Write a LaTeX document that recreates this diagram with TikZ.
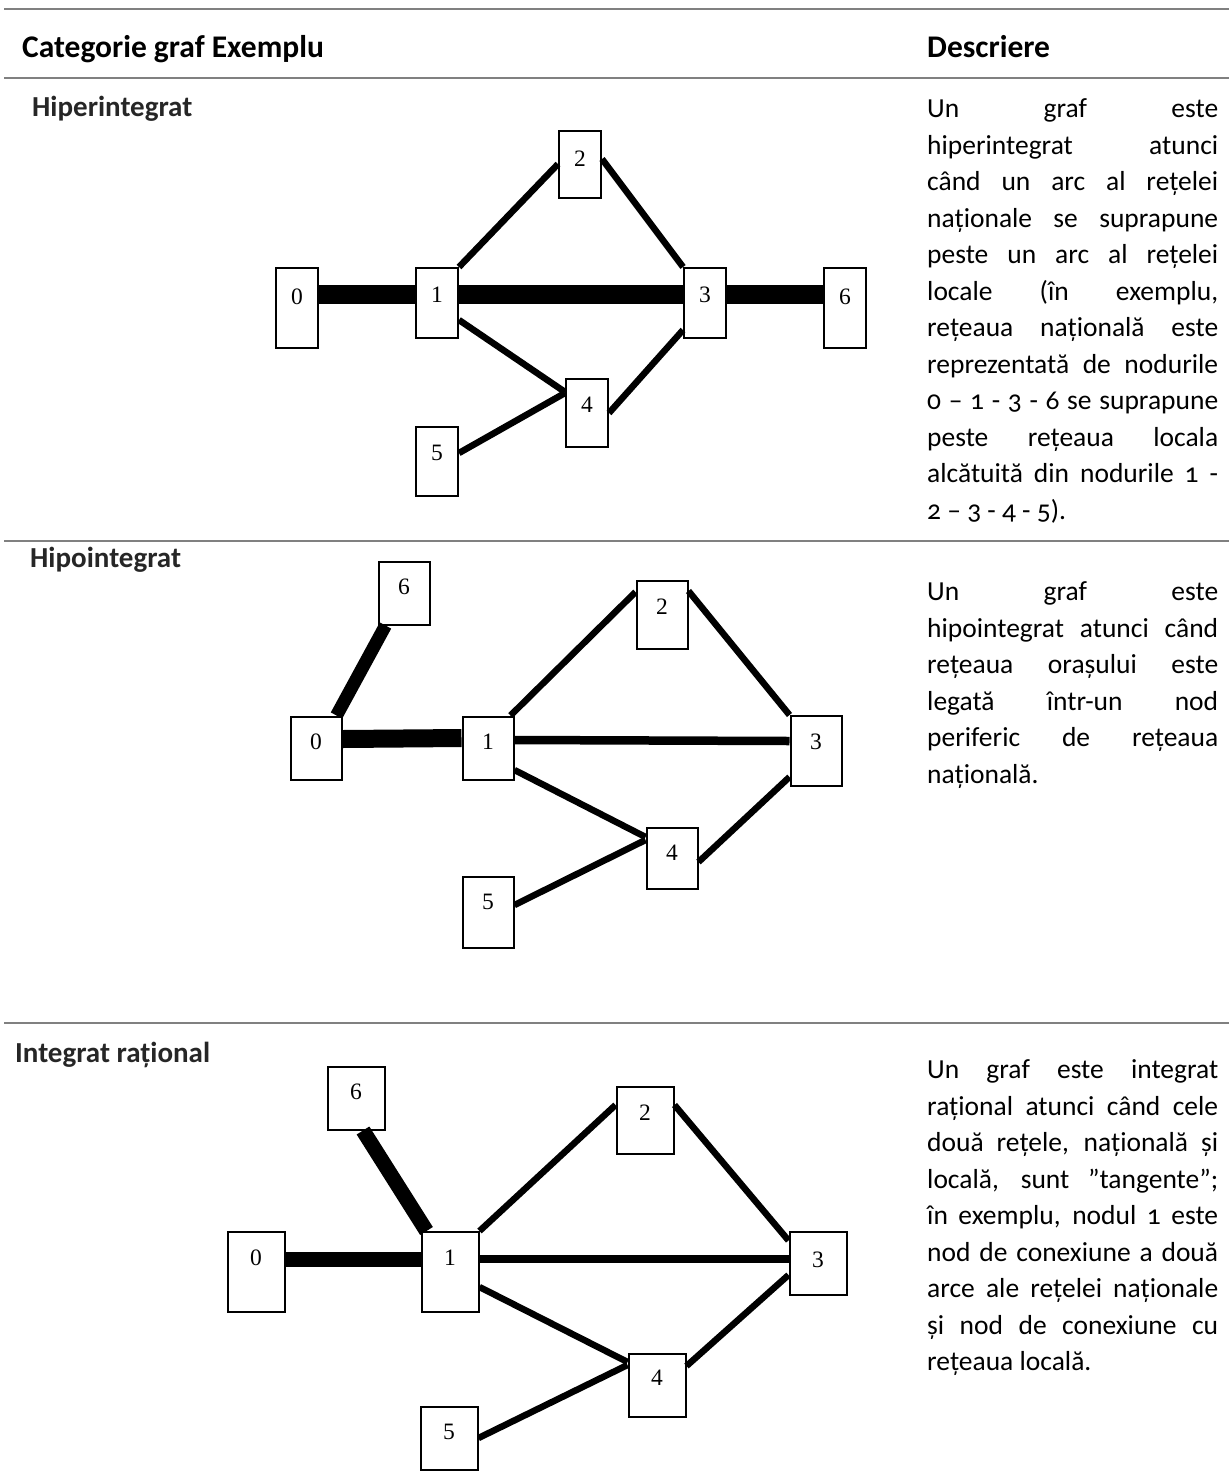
\documentclass[tikz,border=0pt]{standalone}
\usepackage{fontspec}
\setmainfont{Carlito}[Numbers=OldStyle]
\newfontfamily\boxfont{Liberation Serif}

\begin{document}
\begin{tikzpicture}[x=1pt,y=-1pt,
  rule/.style={draw=gray,line width=2pt},
  head/.style={anchor=base west,inner sep=0pt,font=\fontsize{31.5}{34}\selectfont\bfseries},
  cat/.style={anchor=base west,inner sep=0pt,text=black!85,font=\fontsize{29}{30}\selectfont\bfseries},
  desc/.style={anchor=north west,inner sep=0pt,text width=291pt,align=justify,
    font=\fontsize{27.5}{36.5}\selectfont},
  vbox/.style={draw,line width=2pt,fill=white,inner sep=0pt,text height=16pt,text depth=17pt,
    font=\boxfont\fontsize{23.5}{24}\selectfont},
  hbox/.style={vbox,minimum width=42pt},
  pbox/.style={vbox,minimum width=51pt},
  rbox/.style={vbox,minimum width=57pt},
  loc/.style={line width=6.5pt},
  mid/.style={line width=8.5pt},
  nat/.style={line width=19pt}]
\fill[white] (0,0) rectangle (1229,1484);
\useasboundingbox (0,0) rectangle (1229,1484);

\draw[rule] (4,9) -- (1229,9);
\draw[rule] (4,78) -- (1229,78);
\draw[rule] (4,541) -- (1229,541);
\draw[rule] (4,1023) -- (1229,1023);

\node[head] (hcat) at (22,57) {Categorie graf Exemplu};
\node[head] (hdesc) at (927,57) {Descriere};

\node[cat] (c1) at (32,116) {Hiperintegrat};
\node[cat] (c2) at (30,567) {Hipointegrat};
\node[cat] (c3) at (15,1062) {Integrat rațional};

% hiperintegrat
\node[hbox,minimum height=80pt,text depth=23pt] (h0) at (297,308) {0};
\node[hbox,minimum height=70pt] (h1) at (437,303) {1};
\node[hbox,minimum height=67pt,text depth=11pt] (h2) at (580,164) {2};
\node[hbox,minimum height=70pt] (h3) at (705,303) {3};
\node[hbox,minimum height=68pt] (h4) at (587,413) {4};
\node[hbox,minimum height=69pt] (h5) at (437,461) {5};
\node[hbox,minimum height=80pt,text depth=23pt] (h6) at (845,308) {6};
\draw[nat] ([yshift=14pt]h0.east) -- ([yshift=9pt]h1.west);
\draw[nat] ([yshift=9pt]h1.east) -- ([yshift=9pt]h3.west);
\draw[nat] ([yshift=9pt]h3.east) -- ([yshift=14pt]h6.west);
\draw[loc] (h1.north east) -- (h2.west);
\draw[loc] ([yshift=5pt]h2.east) -- (h3.north west);
\draw[loc] ([yshift=-17pt]h1.east) -- ([yshift=21pt]h4.west);
\draw[loc] ([yshift=-27pt]h3.west) -- (h4.east);
\draw[loc] ([yshift=8pt]h5.east) -- ([yshift=20pt]h4.west);

% hipointegrat
\node[pbox,minimum height=63pt,text depth=13pt] (p0) at (316,748) {0};
\node[pbox,minimum height=63pt,text depth=13pt] (p1) at (488,748) {1};
\node[pbox,minimum height=68pt] (p2) at (662,615) {2};
\node[pbox,minimum height=70pt,text depth=19pt] (p3) at (816,751) {3};
\node[pbox,minimum height=61pt,text depth=11pt] (p4) at (672,858) {4};
\node[pbox,minimum height=71pt,text depth=21pt] (p5) at (488,912) {5};
\node[pbox,minimum height=63pt,text depth=13pt] (p6) at (404,593) {6};
\draw[line width=13pt] ([xshift=-6pt]p0.north east) -- ([xshift=8pt]p6.south west);
\draw[line width=18pt] ([yshift=9pt]p0.east) -- ([yshift=10pt]p1.west);
\draw[mid] ([yshift=8pt]p1.east) -- ([yshift=10pt]p3.west);
\draw[loc] ([xshift=-4pt]p1.north east) -- ([yshift=23pt]p2.west);
\draw[loc] ([yshift=24pt]p2.east) -- (p3.north west);
\draw[loc] ([yshift=-22pt]p1.east) -- ([yshift=21pt]p4.west);
\draw[loc] ([yshift=-26pt]p3.west) -- ([yshift=-4pt]p4.east);
\draw[loc] ([yshift=7pt]p5.east) -- ([yshift=18pt]p4.west);

% integrat rational
\node[rbox,minimum height=80pt,text depth=29pt] (r0) at (256,1272) {0};
\node[rbox,minimum height=80pt,text depth=29pt] (r1) at (450,1272) {1};
\node[rbox,minimum height=67pt,text depth=15pt] (r2) at (645,1120) {2};
\node[rbox,minimum height=63pt,text depth=7pt] (r3) at (818,1263) {3};
\node[rbox,minimum height=63pt,text depth=15pt] (r4) at (657,1385) {4};
\node[rbox,minimum height=63pt,text depth=13pt] (r5) at (449,1438) {5};
\node[rbox,minimum height=63pt,text depth=13pt] (r6) at (356,1098) {6};
\draw[line width=15pt] ([xshift=7pt]r6.south) -- ([xshift=6pt]r1.north west);
\draw[line width=15pt] ([yshift=13pt]r0.east) -- ([yshift=13pt]r1.west);
\draw[mid] ([yshift=13pt]r1.east) -- ([yshift=4pt]r3.west);
\draw[loc] (r1.north east) -- ([yshift=15pt]r2.west);
\draw[loc] ([yshift=15pt]r2.east) -- ([yshift=-10pt]r3.north west);
\draw[loc] ([yshift=-15pt]r1.east) -- ([yshift=23pt]r4.west);
\draw[loc] ([yshift=-12pt]r3.west) -- ([yshift=19pt]r4.east);
\draw[loc] (r5.east) -- ([yshift=20pt]r4.west);

\node[desc] (d1) at (927,92) {\strut Un graf este\linebreak
  hiperintegrat atunci\linebreak
  când un arc al rețelei\linebreak
  naționale se suprapune\linebreak
  peste un arc al rețelei\linebreak
  locale (în exemplu,\linebreak
  rețeaua națională este\linebreak
  reprezentată de nodurile\linebreak
  0 – 1 - 3 - 6 se suprapune\linebreak
  peste rețeaua locala\linebreak
  alcătuită din nodurile 1 -\linebreak
  2 – 3 - 4 - 5).};
\node[desc] (d2) at (927,575) {\strut Un graf este\linebreak
  hipointegrat atunci când\linebreak
  rețeaua orașului este\linebreak
  legată într-un nod\linebreak
  periferic de rețeaua\linebreak
  națională.};
\node[desc] (d3) at (927,1053) {\strut Un graf este integrat\linebreak
  rațional atunci când cele\linebreak
  două rețele, națională și\linebreak
  locală, sunt ”tangente”;\linebreak
  în exemplu, nodul 1 este\linebreak
  nod de conexiune a două\linebreak
  arce ale rețelei naționale\linebreak
  și nod de conexiune cu\linebreak
  rețeaua locală.};
\end{tikzpicture}
\end{document}
